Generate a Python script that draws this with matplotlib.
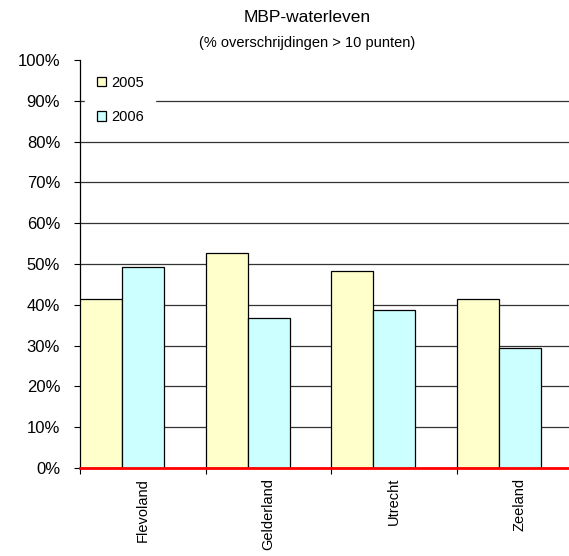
import numpy as np
import matplotlib
matplotlib.use("Agg")
from matplotlib import pyplot as plt
from matplotlib.ticker import PercentFormatter

plt.rcParams['font.family'] = ['Liberation Sans', 'DejaVu Sans']

provinces = ['Flevoland', 'Gelderland', 'Utrecht', 'Zeeland']
years = ['2005', '2006']
values_2005 = [41.3, 52.8, 48.2, 41.4]
values_2006 = [49.3, 36.7, 38.7, 29.3]
colors = ['#ffffcc', '#ccffff']

fig = plt.figure(figsize=(5.69, 5.56), dpi=100)
# axes runs past the right edge, as in the original sheet
ax = fig.add_axes([80 / 569, 88 / 556, 502 / 569, 408 / 556])

index = np.arange(len(provinces))
bar_width = 0.335
b1 = ax.bar(index, values_2005, bar_width, align='edge', color=colors[0],
            edgecolor='black', linewidth=0.9, label=years[0], zorder=3)
b2 = ax.bar(index + bar_width, values_2006, bar_width, align='edge', color=colors[1],
            edgecolor='black', linewidth=0.9, label=years[1], zorder=3)

ax.set_xlim(0, len(provinces))
ax.set_ylim(0, 100)
ax.set_yticks(np.arange(0, 101, 10))
ax.yaxis.set_major_formatter(PercentFormatter(decimals=0))
ax.tick_params(axis='y', labelsize=12, length=4.3, width=0.8, direction='out', pad=10)

ax.set_xticks(index, minor=True)
ax.set_xticks(index + 0.5)
ax.set_xticklabels(provinces, rotation=90, fontsize=10.5)
ax.tick_params(axis='x', which='major', length=0, pad=7)
ax.tick_params(axis='x', which='minor', length=4, width=0.8)

# horizontal gridlines 10%..90% only (no line at the top)
for y in np.arange(10, 100, 10):
    ax.axhline(y, color='#333333', linewidth=0.9, zorder=0)
for side in ['top', 'right']:
    ax.spines[side].set_visible(False)
ax.spines['left'].set_linewidth(0.9)
ax.spines['bottom'].set_color('red')
ax.spines['bottom'].set_linewidth(2)
ax.spines['bottom'].set_zorder(5)

leg = ax.legend(loc='upper left', bbox_to_anchor=(0.0106, 0.990), borderaxespad=0,
                frameon=True, fancybox=False, edgecolor='white', framealpha=1,
                fontsize=10.5, handlelength=0.65, handleheight=0.65,
                handletextpad=0.3, labelspacing=1.4, borderpad=0.8)
leg.set_zorder(4)

fig.text(307 / 569, 1 - 18 / 556, 'MBP-waterleven', ha='center', va='center', fontsize=12.5)
fig.text(307 / 569, 1 - 43 / 556, '(% overschrijdingen > 10 punten)', ha='center',
         va='center', fontsize=10.5)

plt.savefig('out.png', dpi=100)
